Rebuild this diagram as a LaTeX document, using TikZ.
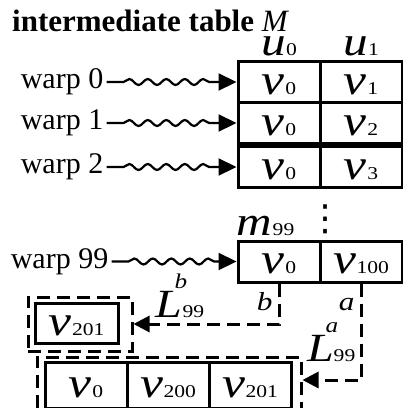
\documentclass[tikz,border=0pt]{standalone}
\usepackage{fontspec}
\setmainfont{Liberation Serif}
\newfontfamily\mvarfont{Liberation Serif}[FakeStretch=1.2]
\newfontfamily\dotfont{DejaVu Sans}
\usetikzlibrary{positioning, arrows.meta, decorations.pathmorphing}

% letter with index, as in the table
\newcommand{\mv}[2]{{\mvarfont\itshape #1}\kern0.5pt{\mvarfont\fontsize{18}{18}\selectfont #2}}
\newcommand{\Lab}[1]{{\mvarfont\itshape L}\rlap{\kern-8pt\raisebox{29pt}{\mvarfont\itshape\fontsize{21}{21}\selectfont #1}}{\mvarfont\fontsize{18}{18}\selectfont 99}}

\begin{document}
\begin{tikzpicture}[x=1pt, y=-1pt,
    cell/.style={draw, line width=3pt, minimum width=82pt, minimum height=41pt, inner sep=0pt,
                 text height=24pt, text depth=0pt, font=\fontsize{43}{43}\selectfont},
    dbox/.style={draw, line width=3pt, dash pattern=on 13pt off 7pt, inner sep=0pt},
    hdr/.style={inner sep=0pt, text height=20pt, text depth=0pt, font=\fontsize{41}{41}\selectfont},
    warp/.style={inner xsep=3pt, inner ysep=0pt, font=\fontsize{30}{30}\selectfont},
    lab/.style={inner sep=0pt, font=\fontsize{26}{26}\selectfont\mvarfont\itshape},
    llab/.style={inner sep=0pt, font=\fontsize{40}{40}\selectfont},
    wavy/.style={line width=2.2pt, -{Triangle[length=18pt, width=17pt]}, decorate,
                 decoration={snake, amplitude=3pt, segment length=18.5pt, pre length=17pt, post length=19pt}},
    link/.style={line width=3pt, dash pattern=on 13pt off 7pt, -{Triangle[length=16pt, width=16pt]}}
]
\useasboundingbox (0,0) rectangle (403,408);
\clip (0,0) rectangle (403,408);

% title
\node[anchor=base west, inner sep=0pt, font=\fontsize{31}{31}\selectfont] (ttl) at (12,31)
    {\textbf{intermediate table} \textit{M}};

% table M
\node[cell] (c00) at (279,82) {\mv{v}{0}};
\node[cell] (c01) at (361,82) {\mv{v}{1}};
\node[cell] (c10) at (279,123) {\mv{v}{0}};
\node[cell] (c11) at (361,123) {\mv{v}{2}};
\node[cell] (c20) at (279,167) {\mv{v}{0}};
\node[cell] (c21) at (361,167) {\mv{v}{3}};
\node[cell] (c90) at (279,261.5) {\mv{v}{0}};
\node[cell] (c91) at (361,261.5) {\mv{v}{100}};

\node[hdr, above=4pt of c00] (u0) {\mv{u}{0}};
\node[hdr, above=4pt of c01] (u1) {\mv{u}{1}};
\node[hdr, above=4pt of c90.north west, anchor=south west] (m99) {\mv{m}{99}};
\node[inner sep=0pt, font=\fontsize{36}{36}\dotfont] (vd) at (325,219) {⋮};

% warps
\node[warp, left=130pt of c00] (w0) {warp 0};
\node[warp, left=130pt of c10] (w1) {warp 1};
\node[warp, left=130pt of c20] (w2) {warp 2};
\node[warp, left=125pt of c90] (w99) {warp 99};

\draw[wavy] (w0) -- (c00);
\draw[wavy] (w1) -- (c10);
\draw[wavy] (w2) -- (c20);
\draw[wavy] (w99) -- (c90);

% lists
\node[cell, minimum width=83pt, minimum height=40pt] (e0) at (76.5,323) {\mv{v}{201}};
\node[dbox, minimum width=104pt, minimum height=54pt] (eall) at (80,324) {};

\node[cell, minimum height=46pt] (d0) at (86,385) {\mv{v}{0}};
\node[cell, minimum height=46pt] (d1) at (168,385) {\mv{v}{200}};
\node[cell, minimum height=46pt] (d2) at (250,385) {\mv{v}{201}};
\node[dbox, minimum width=264pt, minimum height=54pt] (dall) at (169,384) {};

\draw[link] (c90.south) |- node[pos=0.22, left=5pt, lab] {b}
    node[pos=0.84, above=4.5pt, llab] {\Lab{b}} (eall.east);
\draw[link] (c91.south) |- node[pos=0.11, left=5pt, lab] {a}
    node[pos=0.755, above=17pt, llab] {\Lab{a}} ([yshift=4pt]dall.east);

\end{tikzpicture}
\end{document}
